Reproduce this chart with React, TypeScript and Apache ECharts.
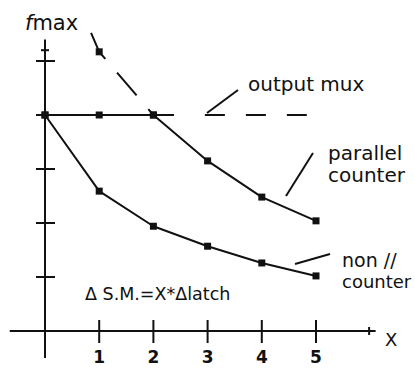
import React, { useEffect, useRef } from "react";
import * as echarts from "echarts";

// Achievable clock rate versus X for the three structures
const ORIGIN_X = [0, 1, 2];
const FLAT_X = [0, 1, 2, 2.38];
const FLAT_Y = [4, 4, 4, 4];
const MUX_RISE_X = [0.85, 1, 2];
const MUX_RISE_Y = [5.52, 5.17, 4];
const MUX_TAIL_X = [2.95, 4.83];
const MUX_TAIL_Y = [4, 4];
const PARALLEL_X = [2, 3, 4, 5];
const PARALLEL_Y = [4, 3.15, 2.48, 2.04];
const NONPAR_X = [0, 1, 2, 3, 4, 5];
const NONPAR_Y = [4, 2.59, 1.94, 1.57, 1.26, 1.02];

const X_TICKS = [1, 2, 3, 4, 5];
const X_TICK_LABELS = ["1", "2", "3", "4", "5"];
const Y_TICKS = [1, 2, 3, 4, 5];

const INK = "#111";
const FONT = "DejaVu Sans";

const pairs = (xs: number[], ys: number[]) => xs.map((x, i) => [x, ys[i]]);

export default function App() {
  const ref = useRef<HTMLDivElement>(null);

  useEffect(() => {
    if (!ref.current) return;
    const chart = echarts.init(ref.current, null, { renderer: "svg" });

    const lineBase = {
      type: "line" as const,
      clip: false,
      silent: true,
      symbol: "rect",
      symbolSize: 7,
      itemStyle: { color: INK },
      lineStyle: { color: INK, width: 2 },
    };

    const text = (t: string, x: number, y: number, size: number, extra: any = {}) => ({
      type: "text",
      x,
      y,
      style: {
        text: t,
        fill: INK,
        font: `${size}px "${FONT}"`,
        verticalAlign: "middle",
        align: "left",
        ...extra,
      },
    });

    chart.setOption({
      animation: false,
      grid: { left: 45, right: 99, top: 61, bottom: 37 },
      xAxis: { type: "value", min: 0, max: 5, show: false },
      yAxis: { type: "value", min: 0, max: 5, show: false },
      series: [
        // axes drawn through the coordinate system, crossing at the origin
        {
          type: "custom",
          silent: true,
          data: [[0, 0]],
          renderItem: (_p: any, api: any) => {
            const xl = api.coord([-0.65, 0]);
            const xr = api.coord([6.1, 0]);
            const yb = api.coord([0, -0.5]);
            const yt = api.coord([0, 5.4]);
            const xArrow = api.coord([5.98, 0]);
            const yArrow = api.coord([0, 5.2]);
            const ls = { stroke: INK, lineWidth: 2 };
            return {
              type: "group",
              children: [
                { type: "line", shape: { x1: xl[0], y1: xl[1], x2: xr[0], y2: xr[1] }, style: ls },
                { type: "line", shape: { x1: yb[0], y1: yb[1], x2: yt[0], y2: yt[1] }, style: ls },
                { type: "line", shape: { x1: xArrow[0], y1: xArrow[1] - 4, x2: xArrow[0], y2: xArrow[1] + 4 }, style: ls },
                { type: "line", shape: { x1: yArrow[0] - 4, y1: yArrow[1], x2: yArrow[0] + 4, y2: yArrow[1] }, style: ls },
              ],
            };
          },
        },
        // x ticks with their labels
        {
          type: "custom",
          silent: true,
          data: X_TICKS.map((v, i) => [v, 0, i]),
          renderItem: (_p: any, api: any) => {
            const p = api.coord([api.value(0), 0]);
            const label = X_TICK_LABELS[api.value(2)];
            return {
              type: "group",
              children: [
                { type: "line", shape: { x1: p[0], y1: p[1] - 11, x2: p[0], y2: p[1] + 12 }, style: { stroke: INK, lineWidth: 2 } },
                {
                  type: "text",
                  x: p[0],
                  y: p[1] + 26,
                  style: { text: label, fill: INK, font: `bold 17px "${FONT}"`, align: "center", verticalAlign: "middle" },
                },
              ],
            };
          },
        },
        // y ticks
        {
          type: "custom",
          silent: true,
          data: Y_TICKS.map((v) => [0, v]),
          renderItem: (_p: any, api: any) => {
            const p = api.coord([0, api.value(1)]);
            return {
              type: "line",
              shape: { x1: p[0] - 9, y1: p[1], x2: p[0] + 10, y2: p[1] },
              style: { stroke: INK, lineWidth: 2 },
            };
          },
        },
        {
          ...lineBase,
          name: "output mux",
          data: pairs(MUX_RISE_X, MUX_RISE_Y),
          symbol: (_v: any, params: any) => (params.dataIndex === 1 ? "rect" : "none"),
          lineStyle: { color: INK, width: 2, type: [30, 18] },
        },
        {
          ...lineBase,
          name: "flat",
          data: pairs(FLAT_X, FLAT_Y),
          symbol: (_v: any, params: any) => (params.dataIndex < ORIGIN_X.length ? "rect" : "none"),
        },
        {
          ...lineBase,
          name: "output mux tail",
          data: pairs(MUX_TAIL_X, MUX_TAIL_Y),
          symbol: "none",
          lineStyle: { color: INK, width: 2, type: [20, 21] },
        },
        { ...lineBase, name: "parallel counter", data: pairs(PARALLEL_X, PARALLEL_Y) },
        { ...lineBase, name: "non // counter", data: pairs(NONPAR_X, NONPAR_Y) },
      ],
      graphic: [
        text("{f|f}max", 25, 23, 21, { rich: { f: { fontStyle: "italic", fontSize: 21, fontFamily: FONT, fill: INK } } }),
        text("output mux", 248, 84, 20),
        text("parallel", 328, 153, 20),
        text("counter", 328, 175, 20),
        text("non //", 342, 260, 19),
        text("counter", 342, 281, 18),
        text("Δ S.M.=X*Δlatch", 85, 294, 17.5),
        text("X", 385, 339, 18),
        // leader lines from labels to curves
        { type: "line", shape: { x1: 238, y1: 90, x2: 207, y2: 113 }, style: { stroke: INK, lineWidth: 2 } },
        { type: "line", shape: { x1: 313, y1: 153, x2: 286, y2: 196 }, style: { stroke: INK, lineWidth: 2 } },
        { type: "line", shape: { x1: 330, y1: 254, x2: 295, y2: 264 }, style: { stroke: INK, lineWidth: 2 } },
      ],
    });

    return () => chart.dispose();
  }, []);

  return (
    <div
      ref={ref}
      style={{ position: "fixed", left: 0, top: 0, width: 415, height: 368, background: "#fff" }}
    />
  );
}
